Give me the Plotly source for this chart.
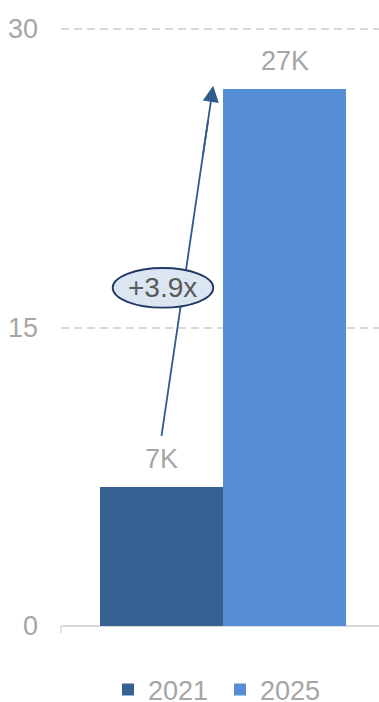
import plotly.graph_objects as go

years = ["2021", "2025"]
values = [7, 27]
labels = ["7K", "27K"]
colors = ["#366092", "#558ED5"]
y_ticks = [0, 15, 30]
multiplier_text = "+3.9x"

FONT = "Liberation Sans, Arial"

fig = go.Figure()
for yr, v, c in zip(years, values, colors):
    fig.add_trace(go.Bar(x=[yr], y=[v], name=yr, marker_color=c, marker_line_width=0))

for i, (v, lab) in enumerate(zip(values, labels)):
    fig.add_annotation(x=i, y=v, xref="x", yref="y", text=lab, showarrow=False, yanchor="bottom",
                       yshift=11, font=dict(size=27, color="#A6A6A6", family=FONT))

# growth arrow: line shape, ellipse on top, arrowhead annotation
x_start, y_start = 0.0, 9.55
x_tip, y_tip = 0.42, 27.15
x_a, y_a = x_start + (x_tip - x_start) * 0.8, y_start + (y_tip - y_start) * 0.8
x_b, y_b = x_start + (x_tip - x_start) * 0.9, y_start + (y_tip - y_start) * 0.9
fig.add_shape(type="line", x0=x_start, y0=y_start, x1=x_b, y1=y_b, xref="x", yref="y",
              line=dict(color="#2F5B8E", width=1.8), layer="above")
fig.add_shape(type="circle", x0=-0.397, x1=0.421, y0=16.0, y1=17.99, xref="x", yref="y",
              fillcolor="#DCE6F2", line=dict(color="#1F3864", width=1.8), layer="above")
fig.add_annotation(x=x_tip, y=y_tip, ax=x_a, ay=y_a,
                   xref="x", yref="y", axref="x", ayref="y", text="", showarrow=True,
                   arrowhead=2, arrowsize=1.8, arrowwidth=1.8, arrowcolor="#2F5B8E", standoff=0)
fig.add_annotation(x=0.01, y=17.0, xref="x", yref="y", text=multiplier_text, showarrow=False,
                   font=dict(size=28, color="#595959", family=FONT))

dom0 = 76 / 675
fig.add_shape(type="line", xref="paper", yref="paper", x0=0, x1=0, ysizemode="pixel", yanchor=dom0,
              y0=0, y1=-7, line=dict(color="#D9D9D9", width=1.5))

fig.update_layout(
    width=379, height=702,
    margin=dict(l=61, r=0, t=27, b=0, autoexpand=False),
    paper_bgcolor="white", plot_bgcolor="white",
    barmode="overlay", bargap=0,
    font=dict(family=FONT, color="#A6A6A6"),
    showlegend=True,
    legend=dict(orientation="h", x=0.5, xanchor="center", y=12 / 675, yanchor="middle",
                font=dict(size=27, color="#A6A6A6"), itemwidth=30, entrywidth=67),
    xaxis=dict(type="category", range=[-0.817, 1.768], showticklabels=False, showgrid=False,
               zeroline=False, showline=False, fixedrange=True, automargin=False),
    yaxis=dict(range=[0, 30.1], domain=[dom0, 1], tickvals=y_ticks, showgrid=True,
               gridcolor="#D9D9D9", gridwidth=1.5, griddash="8px,5px", zeroline=True,
               zerolinecolor="#D9D9D9", zerolinewidth=1.5, automargin=False, fixedrange=True,
               tickfont=dict(size=27, color="#A6A6A6"), ticklabelstandoff=22, showline=False),
)

fig.write_html(
    "out.html",
    config={"displayModeBar": False},
    post_script="document.body.style.margin='0';document.body.style.padding='0';"
                "document.body.style.overflow='hidden';",
)
